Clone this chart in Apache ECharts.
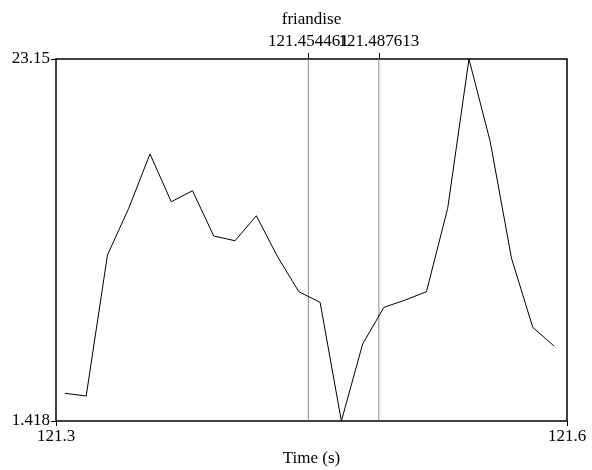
<!DOCTYPE html>
<html>
<head>
<meta charset="utf-8">
<script src="https://cdn.jsdelivr.net/npm/echarts@6/dist/echarts.min.js"></script>
<style>
  html, body { margin: 0; padding: 0; background: #fff; }
  #chart { width: 592px; height: 470px; }
</style>
</head>
<body>
<div id="chart"></div>
<script>
// Sample times (s) and signal values
var times = [121.34, 121.35, 121.36, 121.37, 121.38, 121.39, 121.40, 121.41,
             121.42, 121.43, 121.44, 121.45, 121.46, 121.47, 121.48, 121.49,
             121.50, 121.51, 121.52, 121.53, 121.54, 121.55, 121.56, 121.57];
var values = [3.08, 2.92, 11.38, 14.19, 17.45, 14.58, 15.24, 12.52,
              12.24, 13.74, 11.28, 9.18, 8.54, 1.418, 6.04, 8.24,
              8.68, 9.18, 14.19, 23.15, 18.19, 11.19, 7.04, 5.92];

// Axis extents and the tick labels drawn at them
var xRange = [121.3358, 121.5761];
var xTickLabels = ['121.3', '121.6'];
var yRange = [1.418, 23.15];
var yTickLabels = ['1.418', '23.15'];

// Interval markers along the time axis
var markerTimes = [121.454461, 121.487613];
var markerLabels = ['121.454461', '121.487613'];
var markerTitle = 'friandise';

var FONT = 'Liberation Serif';
var FS = 17;
var chart = echarts.init(document.getElementById('chart'));

var textStyle = { fontFamily: FONT, fontSize: FS, color: '#000' };

// Bottom time axis with labels only at its two ends
var xAxes = [{
  type: 'value',
  position: 'bottom',
  min: xRange[0], max: xRange[1],
  name: 'Time (s)',
  nameLocation: 'middle',
  nameGap: 28,
  nameTextStyle: textStyle,
  axisLine: { show: false },
  splitLine: { show: false },
  axisTick: { show: true, length: 5, inside: false, customValues: xRange, lineStyle: { color: '#000', width: 1 } },
  axisLabel: Object.assign({
    customValues: xRange, margin: 7, hideOverlap: false,
    formatter: function (v) { return xTickLabels[xRange.indexOf(v)]; }
  }, textStyle)
}];

// One top axis per marker so each gets its own tick and label
markerTimes.forEach(function (t, i) {
  xAxes.push({
    type: 'value',
    position: 'top',
    offset: 0,
    min: xRange[0], max: xRange[1],
    name: i === 0 ? markerTitle : '',
    nameLocation: 'middle',
    nameGap: 30,
    nameTextStyle: textStyle,
    axisLine: { show: false },
    splitLine: { show: false },
    axisTick: { show: true, length: 6, inside: false, customValues: [t], lineStyle: { color: '#000', width: 1 } },
    axisLabel: Object.assign({
      customValues: [t], margin: 9, hideOverlap: false,
      formatter: function () { return markerLabels[i]; }
    }, textStyle)
  });
});

// One vertical line per marker, spanning the full value range
var markerSeries = markerTimes.map(function (t) {
  return {
    type: 'line',
    xAxisIndex: 0,
    data: [[t, yRange[0]], [t, yRange[1]]],
    symbol: 'none',
    silent: true,
    z: 1,
    lineStyle: { color: '#8a8a8a', width: 1 }
  };
});

chart.setOption({
  animation: false,
  backgroundColor: '#fff',
  grid: {
    left: 56, right: 25, top: 59, bottom: 49,
    outerBoundsMode: 'none',
    containLabel: false,
    show: true, borderColor: '#000', borderWidth: 1.5, backgroundColor: 'transparent'
  },
  xAxis: xAxes,
  yAxis: {
    type: 'value',
    min: yRange[0], max: yRange[1],
    axisLine: { show: false },
    splitLine: { show: false },
    axisTick: { show: true, length: 5, customValues: yRange, lineStyle: { color: '#000', width: 1 } },
    axisLabel: Object.assign({
      customValues: yRange, margin: 6, hideOverlap: false,
      formatter: function (v) { return yTickLabels[yRange.indexOf(v)]; }
    }, textStyle)
  },
  series: markerSeries.concat([{
    type: 'line',
    xAxisIndex: 0,
    data: times.map(function (t, i) { return [t, values[i]]; }),
    symbol: 'none',
    z: 3,
    lineStyle: { color: '#000', width: 1 }
  }])
});
</script>
</body>
</html>
